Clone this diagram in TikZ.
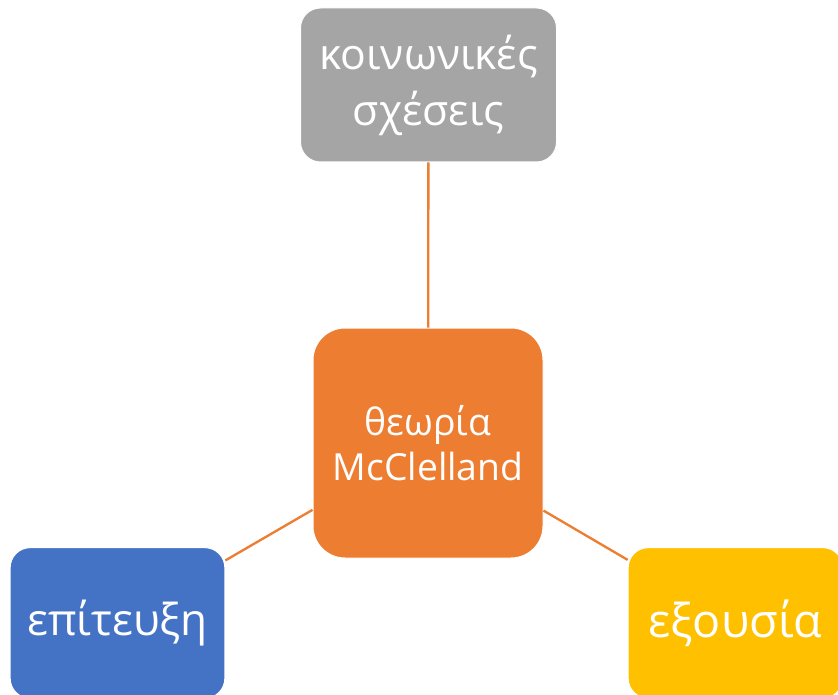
\documentclass[tikz,border=0pt]{standalone}
\usepackage{fontspec}
\setmainfont{Open Sans}
\usetikzlibrary{positioning}

\tikzstyle{need box}=[draw=white, line width=0.75pt, rectangle, fill=#1, text=white, align=center, inner sep=0pt]
\tikzstyle{need link}=[draw=orange, line width=1.75pt]
\definecolor{grey}{RGB}{165, 165, 165}
\definecolor{orange}{RGB}{237, 125, 49}
\definecolor{blue}{RGB}{68, 114, 196}
\definecolor{gold}{RGB}{255, 192, 0}

\begin{document}
\begin{tikzpicture}[x=0.75pt, y=-0.75pt]
		\clip (0,0) rectangle (838,695);
		\useasboundingbox (0,0) rectangle (838,695);

		\node [need box = orange, minimum width=172.5pt, minimum height=172.5pt, rounded corners=24pt,
			font=\fontsize{28}{34}\selectfont] (theory) at (428,443) {θεωρία\\McClelland};
		\node [need box = grey, minimum width=192pt, minimum height=115.5pt, rounded corners=15pt,
			font=\fontsize{32}{42}\selectfont] (social) at (428.5,85) {κοινωνικές\\σχέσεις};
		\node [need box = blue, minimum width=161pt, minimum height=113pt, rounded corners=15pt,
			font=\fontsize{33}{40}\selectfont] (achieve) at (117.5,623) {επίτευξη};
		\node [need box = gold, minimum width=161pt, minimum height=113pt, rounded corners=15pt,
			font=\fontsize{35}{40}\selectfont] (power) at (735.5,623) {εξουσία};

		\draw [need link] (social) -- (theory);
		\draw [need link] (achieve) -- (theory);
		\draw [need link] (power) -- (theory);
	\end{tikzpicture}
\end{document}
